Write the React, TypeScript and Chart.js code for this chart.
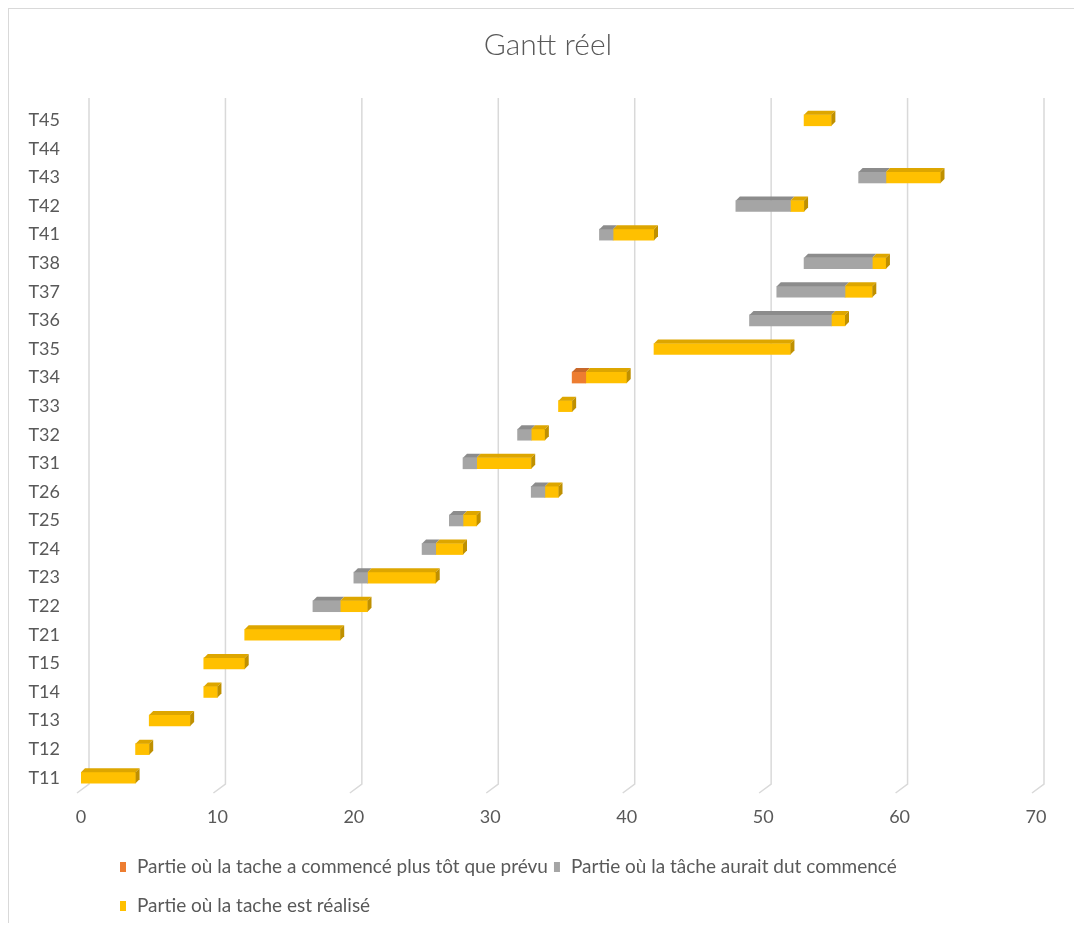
import React, { useEffect, useRef } from "react";
import { Chart, registerables } from "chart.js";

Chart.register(...registerables);

// ---- Data ----
const tasks = [
  "T11", "T12", "T13", "T14", "T15", "T21", "T22", "T23", "T24", "T25", "T26", "T31",
  "T32", "T33", "T34", "T35", "T36", "T37", "T38", "T41", "T42", "T43", "T44", "T45",
];
// invisible offset: day on which the drawn bar begins
const startOffset = [0, 4, 5, 9, 9, 12, 17, 20, 25, 27, 33, 28, 32, 35, 36, 42, 49, 51, 53, 38, 48, 57, 0, 53];
// part where the task started earlier than planned
const startedEarly = [0, 0, 0, 0, 0, 0, 0, 0, 0, 0, 0, 0, 0, 0, 1, 0, 0, 0, 0, 0, 0, 0, 0, 0];
// part where the task should have started
const shouldHaveStarted = [0, 0, 0, 0, 0, 0, 2, 1, 1, 1, 1, 1, 1, 0, 0, 0, 6, 5, 5, 1, 4, 2, 0, 0];
// part where the task was done
const realized = [4, 1, 3, 1, 3, 7, 2, 5, 2, 1, 1, 4, 1, 1, 3, 10, 1, 2, 1, 3, 1, 4, 0, 2];

const xTicks = [0, 10, 20, 30, 40, 50, 60, 70];

const seriesNames = [
  "Partie où la tache a commencé plus tôt que prévu",
  "Partie où la tâche aurait dut commencé",
  "Partie où la tache est réalisé",
];
const seriesColors = ["#ED7D31", "#A5A5A5", "#FFC000"];
const seriesTopColors = ["#C8682A", "#8C8C8C", "#DDA600"];
const seriesSideColors = ["#B05B24", "#7C7C7C", "#BF9000"];

const TITLE = "Gantt réel";
const FONT = "Lato, 'Noto Sans', sans-serif";
const TEXT = "#595959";
const GRID = "#D9D9D9";

const W = 1070;
const H = 914;
const DEPTH = 4;

const nz = (arr: number[]) => arr.map((v) => (v === 0 ? null : v));

const App: React.FC = () => {
  const ref = useRef<HTMLCanvasElement | null>(null);

  useEffect(() => {
    if (!ref.current) return;

    const gridPlugin = {
      id: "grid3d",
      beforeDatasetsDraw(chart: any) {
        const { ctx, chartArea, scales } = chart;
        const xs = scales.x;
        ctx.save();
        ctx.strokeStyle = GRID;
        ctx.lineWidth = 1.5;
        xTicks.forEach((v) => {
          const px = xs.getPixelForValue(v);
          ctx.beginPath();
          ctx.moveTo(px + 8, chartArea.top - 8);
          ctx.lineTo(px + 8, chartArea.bottom - 8);
          ctx.lineTo(px - 4, chartArea.bottom + 1);
          ctx.stroke();
        });
        ctx.restore();
      },
    };

    const bar3dPlugin = {
      id: "bar3d",
      afterDatasetsDraw(chart: any) {
        const ctx = chart.ctx;
        const d = DEPTH;
        ctx.save();
        for (let i = 0; i < tasks.length; i++) {
          let last: any = null;
          let lastDs = -1;
          for (let s = 1; s <= 3; s++) {
            const val = chart.data.datasets[s].data[i] as number | null;
            if (!val) continue;
            const el: any = chart.getDatasetMeta(s).data[i];
            const x0 = Math.min(el.base, el.x);
            const x1 = Math.max(el.base, el.x);
            const yT = el.y - el.height / 2;
            ctx.fillStyle = seriesTopColors[s - 1];
            ctx.beginPath();
            ctx.moveTo(x0, yT);
            ctx.lineTo(x0 + d, yT - d);
            ctx.lineTo(x1 + d, yT - d);
            ctx.lineTo(x1, yT);
            ctx.closePath();
            ctx.fill();
            last = el;
            lastDs = s;
          }
          if (last) {
            const x1 = Math.max(last.base, last.x);
            const yT = last.y - last.height / 2;
            const yB = last.y + last.height / 2;
            ctx.fillStyle = seriesSideColors[lastDs - 1];
            ctx.beginPath();
            ctx.moveTo(x1, yT);
            ctx.lineTo(x1 + d, yT - d);
            ctx.lineTo(x1 + d, yB - d);
            ctx.lineTo(x1, yB);
            ctx.closePath();
            ctx.fill();
          }
        }
        ctx.restore();
      },
    };

    const textPlugin = {
      id: "titleLegend",
      afterDraw(chart: any) {
        const ctx = chart.ctx;
        ctx.save();
        // title
        ctx.fillStyle = TEXT;
        ctx.font = `300 30px ${FONT}`;
        ctx.textAlign = "center";
        ctx.textBaseline = "middle";
        ctx.fillText(TITLE, chart.width / 2 + 4, 36);
        // legend
        ctx.font = `19px ${FONT}`;
        ctx.textAlign = "left";
        const startX = 111;
        const maxX = chart.width - 100;
        let x = startX;
        let y = 858;
        seriesNames.forEach((name, k) => {
          const tw = ctx.measureText(name).width;
          const itemW = 6 + 11 + tw;
          if (x + itemW > maxX && x > startX) {
            x = startX;
            y += 39;
          }
          ctx.fillStyle = seriesColors[k];
          ctx.fillRect(x, y - 5, 6, 10);
          ctx.fillStyle = TEXT;
          ctx.fillText(name, x + 17, y);
          x += itemW + 6;
        });
        ctx.restore();
      },
    };

    const chart = new Chart(ref.current, {
      type: "bar",
      data: {
        labels: tasks,
        datasets: [
          {
            label: "offset",
            data: nz(startOffset),
            backgroundColor: "rgba(0,0,0,0)",
            barThickness: 11,
          },
          ...seriesNames.map((name, k) => ({
            label: name,
            data: nz([startedEarly, shouldHaveStarted, realized][k]),
            backgroundColor: seriesColors[k],
            barThickness: 11,
          })),
        ],
      },
      options: {
        indexAxis: "y",
        responsive: true,
        maintainAspectRatio: false,
        animation: false,
        layout: { padding: { left: 0, right: W - 1027, top: 97, bottom: H - 783 - 40 } },
        plugins: {
          legend: { display: false },
          title: { display: false },
          tooltip: { enabled: false },
        },
        scales: {
          x: {
            type: "linear",
            stacked: true,
            min: 0,
            max: 70,
            ticks: {
              stepSize: 10,
              color: TEXT,
              font: { family: FONT, size: 18 },
              padding: 14,
            },
            grid: { display: false, drawTicks: false },
            border: { display: false },
            afterFit(scale: any) {
              scale.height = 40;
            },
          },
          y: {
            type: "category",
            stacked: true,
            reverse: true,
            ticks: {
              color: TEXT,
              font: { family: FONT, size: 18 },
              padding: 21,
              autoSkip: false,
            },
            grid: { display: false, drawTicks: false },
            border: { display: false },
            afterFit(scale: any) {
              scale.width = 72;
            },
          },
        },
      },
      plugins: [gridPlugin, bar3dPlugin, textPlugin],
    });

    return () => chart.destroy();
  }, []);

  return (
    <div
      style={{
        width: W,
        height: H,
        borderTop: `1px solid ${GRID}`,
        borderLeft: `1px solid ${GRID}`,
        position: "relative",
        background: "#fff",
      }}
    >
      <canvas ref={ref} />
    </div>
  );
};

export default App;
